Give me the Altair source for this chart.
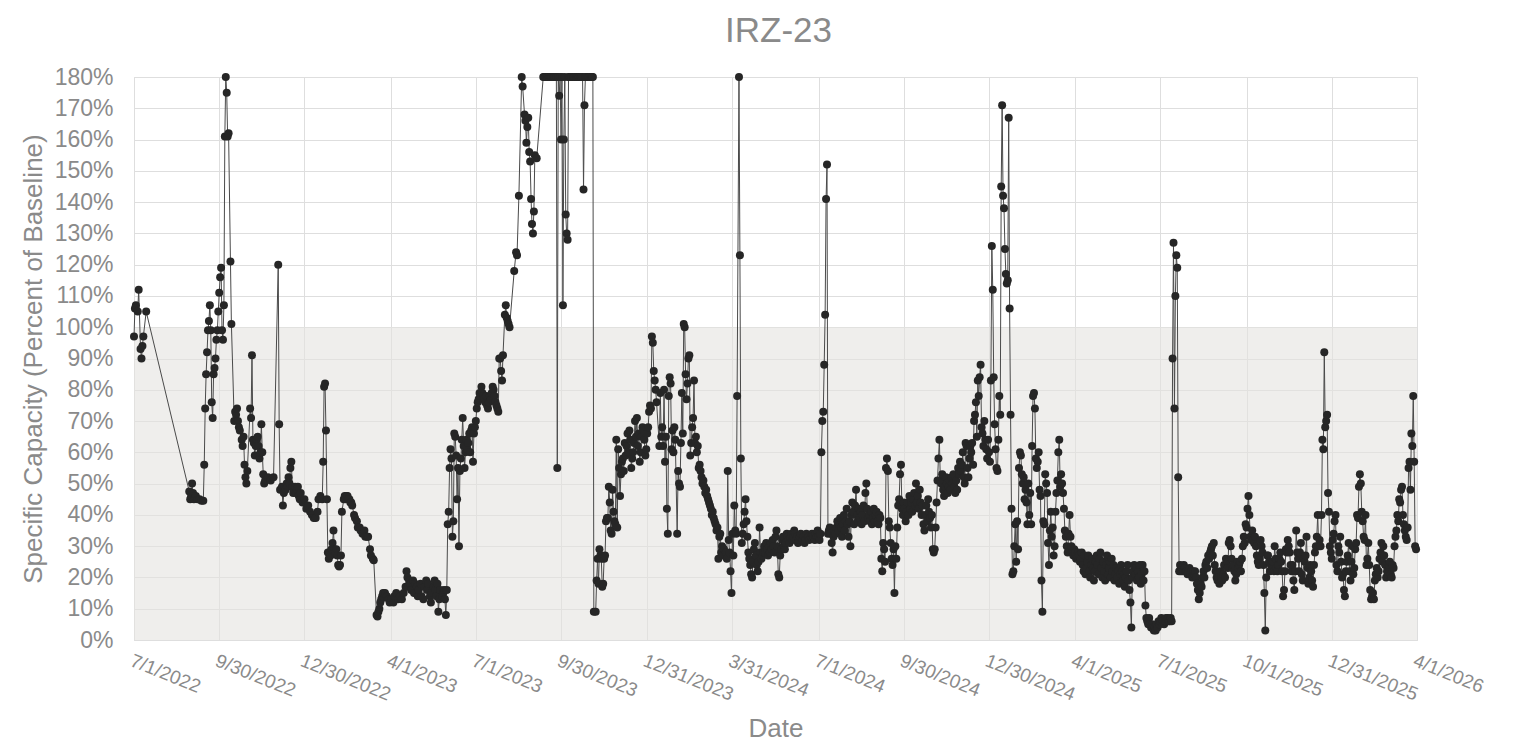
import altair as alt
import pandas as pd

# ---------------- data ----------------
START_DATE = "2022-07-01"   # day 0 of the day offsets below
END_DATE = "2026-04-01"
baseline_pct = 100          # top of the shaded "below baseline" band

# day offsets (days since START_DATE) and specific capacity (% of baseline)
days_2022 = ([0, 1, 2, 4, 5, 7, 8, 9, 10, 13,
              59, 60, 61, 62, 63, 64, 66, 68, 70, 72, 74, 75]
             + list(range(76, 102)) + [103, 104]
             + [107, 108, 109, 110, 111, 112, 113] + list(range(115, 122))
             + list(range(124, 141)) + [143, 146, 149, 154, 155, 156, 158, 159, 160]
             + list(range(161, 179)) + [180, 182])
pct_2022 = [97, 106, 107, 105, 112, 93, 90, 94, 97, 105,
            47.5, 45, 46, 50, 47, 45, 46, 45, 45, 44.5, 44.5, 56,
            74, 85, 92, 99, 102, 107, 99, 76, 71, 85, 87, 90, 96, 99, 105, 111, 116, 119, 99, 96,
            107, 161, 180, 175, 161, 162, 121, 101,
            70, 73, 72, 74, 70, 68, 67, 64, 62, 65, 56, 52, 50, 54,
            74, 71, 91, 64, 63, 59, 62, 64, 65, 62, 58, 60, 69, 60, 53, 50, 51,
            52, 51, 52, 120, 69, 48, 49, 43, 47,
            49, 48, 50, 49, 52, 50, 55, 57, 49, 47, 48, 49, 47, 48, 49, 46, 45, 47, 44, 45]

days_2023 = ([184, 186, 188, 190, 192, 194, 196, 197, 199, 201, 202, 203, 204, 205, 206, 207, 208]
             + list(range(209, 223)) + list(range(224, 234))
             + [235, 236, 238, 239, 241, 242, 244, 246, 247, 249, 250, 252, 253, 255, 256, 259, 260]
             + [261, 262, 263, 264, 265, 266, 268, 270, 272, 273, 275, 277, 278, 280, 282, 284, 286, 288,
                290, 291, 292, 293, 294, 295, 296, 298, 299, 300, 302, 303, 304, 306, 307, 309, 310,
                312, 313, 314, 316, 317, 318, 320, 321, 322, 323, 324, 325, 326, 327, 329, 330, 331, 332, 333]
             + list(range(334, 395)) + list(range(396, 402)) + [406, 408, 409, 411, 414, 415]
             + list(range(417, 429)) + [430]
             + list(range(437, 492)) + [493] + list(range(494, 549)))
pct_2023 = [42, 43, 41, 40, 39, 39, 41, 45, 46, 45, 57, 81, 82, 67, 45, 28, 26,
            28, 27, 29, 31, 35, 29, 28, 29, 27, 24, 23.5, 24, 27, 41,
            45, 46, 45, 46, 46, 45, 45, 44, 44, 43,
            40, 39, 38, 36, 36, 35, 34, 35, 33, 33, 33, 29, 27, 26, 25.5, 8, 7.5,
            9, 10, 12, 13, 14, 15, 15, 14, 13, 12, 13, 12, 14, 15, 13, 14, 13, 15,
            17, 22, 20, 17, 19, 18, 16, 19, 15, 18, 17, 14, 16, 18, 14, 13, 17,
            19, 16, 18, 14, 12, 15, 17, 19, 16, 14, 18, 9, 13, 16, 14, 15, 16, 13, 8,
            16, 37, 41, 55, 61, 58, 33, 38, 66, 65, 59, 45, 55, 30, 54, 58, 64, 71, 62, 55,
            60, 64, 61, 63, 66, 60, 67, 68, 57, 66, 68, 70,
            74, 76, 77, 79, 78, 81, 79, 78, 77, 76, 78, 75, 74, 76, 78, 77, 79, 81, 80, 78,
            76, 75, 74, 73, 90, 90, 86, 83, 91,
            104, 107, 103, 102, 101, 100, 118, 124, 123, 142, 180, 177,
            168, 166, 159, 164, 167, 156, 153, 141, 133, 130, 137, 155, 154,
            180, 180, 180, 180, 180, 180, 180, 180, 180, 180, 180, 180, 180, 180, 180,
            55, 180, 174, 180, 160, 180, 107, 160, 180, 136, 130, 128,
            180, 180, 180, 180, 180, 180, 180, 180, 180, 180, 180, 180, 180, 180, 180, 180,
            144, 171, 180, 180, 180, 180, 180, 180, 180, 180, 180, 9, 9,
            19, 26, 18, 29, 27, 26, 17, 18, 26, 27, 38, 39, 39, 49, 44, 35, 34, 48, 41, 38,
            37, 64, 36, 61, 55, 46, 53, 57, 58, 54, 63, 59, 62, 66, 60, 67, 64, 55, 58, 60,
            63, 70, 65, 71, 62, 66, 57, 60, 65, 68, 67, 64, 59, 61, 66]

days_2024 = (list(range(549, 559)) + list(range(561, 579)) + list(range(580, 631))
             + list(range(632, 645)) + list(range(646, 713)) + list(range(714, 719))
             + [720, 721, 723, 724, 725] + list(range(727, 915)))
pct_2024 = [68, 73, 75, 74, 97, 95, 86, 83, 80, 76,
            62, 79, 65, 68, 62, 80, 57, 65, 42, 34, 78, 84, 82, 61, 67, 60, 68, 64,
            34, 54, 50, 49, 63, 79, 66, 101, 100, 85, 77, 82, 90, 91, 59, 63, 68, 71, 83, 63,
            65, 60, 62, 55, 56, 54, 52, 50, 51, 49, 47, 48, 46, 45, 44, 43, 42, 40, 41, 39,
            38, 37, 35, 36, 26, 33, 34, 28, 30, 27, 29,
            28, 26, 54, 32, 28, 22, 15, 34, 27, 43, 35, 34, 78,
            180, 123, 58, 31, 34, 37, 41, 45, 38, 33, 28, 26, 24, 21, 20, 25, 29, 31, 27, 24,
            22, 25, 36, 28, 26, 27, 28,
            30, 28, 31, 29, 27, 30, 28, 31, 29, 32, 30, 28, 33, 35, 30, 21, 20, 27, 29, 32,
            33, 30, 29, 31, 34, 33, 32, 31, 33, 34, 32, 33, 35, 34, 32, 33, 31, 32, 33, 34,
            32, 33, 31, 32, 34, 33, 32, 33, 34, 33,
            32, 34, 33, 35, 33, 32, 34, 60, 70, 73, 88, 104, 141, 152, 34, 35, 36,
            34, 31, 28, 33, 35, 34, 36, 38, 35, 37, 39, 36, 33, 37, 40, 35, 38, 42, 37, 33,
            38, 30, 40, 44, 41, 37, 43, 48, 40, 38, 42, 39, 41, 37, 40, 43, 38, 47, 50, 42,
            39, 40, 38, 41, 37, 39, 42, 38, 40, 41, 38, 37, 40, 39, 26, 22, 31, 29, 25, 55,
            58, 54, 38, 36, 31, 26, 24, 29, 15, 30, 26, 36, 43, 45, 53, 56, 42, 40, 44, 42,
            38, 41, 44, 40, 46, 42, 44, 41, 45, 47, 43, 50, 44, 46, 42, 48, 44, 40, 43, 37,
            35, 40, 43, 38, 45, 41, 39, 36, 40, 29, 28, 29, 36, 44, 51, 58, 64, 51, 50, 53,
            48, 46, 49, 52, 50, 47, 49, 51, 48, 52, 50, 53, 49, 47, 51, 48, 55, 53, 57, 54,
            56, 60, 52, 50, 63, 62, 55, 52, 58, 62, 60, 63, 56, 70, 72, 76, 65, 83, 78, 84,
            88, 68, 66, 62, 70, 64, 61, 58, 64, 60, 57]

days_2025 = list(range(915, 1280))
pct_2025 = [83, 126, 112, 84, 69, 61,
            55, 54, 64, 78, 72, 145, 171, 142, 138, 125, 117, 114, 115, 167, 106, 72, 42, 21, 22, 30,
            37, 25, 38, 29, 55, 60, 59, 53, 50, 52, 45, 48, 44, 37, 50, 40, 47, 37, 62, 78,
            79, 74, 58, 55, 57, 60, 48, 46, 19, 9, 38, 37, 53, 50, 47, 31, 24, 35, 41, 33,
            36, 27, 30, 41, 47, 51, 60, 64, 49, 53, 50, 47, 42, 35, 33, 30, 28, 34, 40, 33,
            30, 28, 27, 29, 28, 26, 27,
            28, 27, 25, 26, 28, 24, 22, 27, 21, 23, 25, 27, 22, 20, 24, 26, 23, 19, 22, 25,
            27, 24, 21, 26, 28, 23, 20, 25, 22, 19, 24, 27, 21, 23, 25, 20, 26, 22, 24, 19,
            21, 23, 20, 22, 18, 21, 24, 22, 19, 21, 17, 20, 22, 24, 19, 16, 12, 4, 20, 22,
            24, 21, 23, 19, 22, 20, 24, 18, 21, 24, 19, 22, 11, 7, 6, 5, 7, 5, 4, 5,
            4, 3, 4, 3, 5, 4, 6, 5, 6, 7, 6, 6, 5, 6, 7,
            6, 7, 6, 6, 7, 6, 90, 127, 74, 110, 123, 119, 52,
            22, 24, 22, 23, 22, 24, 23, 22, 22, 21, 22, 23, 21, 22, 20, 22, 21, 22, 20, 18,
            16, 13, 15, 18, 17, 20, 22, 20, 24, 25, 23, 27, 26, 28, 29, 30, 27, 31, 24, 22,
            20, 19, 20, 18, 22, 20, 19, 21, 24, 20, 26, 25, 23, 31, 32, 30, 26, 23, 24, 22,
            19, 21, 25, 23, 24, 25, 22, 26, 30, 33, 31, 37, 36, 42, 46, 40, 33, 32, 35, 32,
            31, 33, 30, 27, 25, 24, 26, 32, 30, 28, 24, 15, 3, 20, 27,
            27, 25, 22, 24, 23, 25, 22, 30, 26, 23, 22, 24, 26, 28, 25, 22, 14, 16, 22, 29,
            28, 32, 30, 28, 24, 22, 24, 19, 16, 22, 35, 28, 26, 22, 28, 31, 21, 19, 26, 25,
            27, 33, 23, 18, 20, 24, 22, 19, 17, 24, 28, 30, 33, 40, 30,
            32, 30, 40, 64, 61, 92, 68, 70, 72, 47, 41, 30, 28, 26]

days_2026 = list(range(1280, 1370))
pct_2026 = [32, 34, 38, 40, 24, 22, 30, 28, 33, 25, 20, 21, 16, 14, 22, 25, 27, 31, 22, 19,
            25, 30, 21, 23, 29, 31, 40, 39, 49, 53, 50, 41, 38, 33, 32, 40, 24, 26, 31, 24,
            16, 13, 14, 15, 13, 19, 21, 23, 20, 22, 26, 28, 31, 25, 30, 27, 24, 20, 22, 21,
            24, 25, 21, 20, 24, 23, 30, 33, 35, 40, 38, 45, 44, 48, 49, 40, 37, 35, 33, 32,
            36, 55, 57, 48, 66, 62, 78, 57, 30, 29]

x_tick_dates = ["2022-07-01", "2022-09-30", "2022-12-30", "2023-04-01", "2023-07-01",
                "2023-09-30", "2023-12-31", "2024-03-31", "2024-07-01", "2024-09-30",
                "2024-12-30", "2025-04-01", "2025-07-01", "2025-10-01", "2025-12-31",
                "2026-04-01"]
y_ticks = [0, 10, 20, 30, 40, 50, 60, 70, 80, 90, 100, 110, 120, 130, 140, 150, 160, 170, 180]

# ---------------- assemble ----------------
days, pct = [], []
for d, p, name in [(days_2022, pct_2022, "2022"), (days_2023, pct_2023, "2023"),
                   (days_2024, pct_2024, "2024"), (days_2025, pct_2025, "2025"),
                   (days_2026, pct_2026, "2026")]:
    if len(d) != len(p):
        raise ValueError(f"{name}: {len(d)} days vs {len(p)} values")
    days += d
    pct += p

start = pd.Timestamp(START_DATE)
dates = (start + pd.to_timedelta(days, unit="D")).strftime("%Y-%m-%d")
df = pd.DataFrame({"date": list(dates), "pct": pct})


def ts(s):
    return int(pd.Timestamp(s, tz="UTC").timestamp() * 1000)


band_df = pd.DataFrame({"start": [START_DATE], "end": [END_DATE],
                        "low": [0], "high": [baseline_pct]})

FONT = "Liberation Sans"
GREY = "#8a8a8a"

x_scale = alt.Scale(type="utc", domain=[ts(START_DATE), ts(END_DATE)])
y_scale = alt.Scale(domain=[0, 180], nice=False)

x_axis = alt.Axis(
    title="Date", values=[ts(s) for s in x_tick_dates],
    labelExpr="utcFormat(datum.value, '%-m/%-d/%Y')",
    labelAngle=22, labelAlign="left", labelBaseline="top",
    labelFontSize=19, labelPadding=11, labelFlush=False, labelOverlap=False,
    titleFontSize=26, titlePadding=11, grid=True, tickSize=0,
)
y_axis = alt.Axis(
    title="Specific Capacity (Percent of Baseline)", values=y_ticks,
    labelExpr="datum.value + '%'", labelFontSize=23, labelPadding=21,
    titleFontSize=26, titlePadding=8, grid=True, tickSize=0,
)

band = alt.Chart(band_df).mark_rect(color="#e4e2df", opacity=0.6).encode(
    x=alt.X("start:T", scale=x_scale, axis=x_axis),
    x2="end:T",
    y=alt.Y("low:Q", scale=y_scale, axis=y_axis),
    y2="high:Q",
)

line = alt.Chart(df).mark_line(color="#4a4a4a", strokeWidth=1).encode(
    x=alt.X("date:T", scale=x_scale, axis=x_axis),
    y=alt.Y("pct:Q", scale=y_scale, axis=y_axis),
)

points = alt.Chart(df).mark_circle(size=64, color="#262626", opacity=1).encode(
    x=alt.X("date:T", scale=x_scale, axis=x_axis),
    y=alt.Y("pct:Q", scale=y_scale, axis=y_axis),
)

chart = (
    alt.layer(band, line, points)
    .properties(
        width=1283, height=563,
        title=alt.TitleParams(text="IRZ-23", fontSize=35, font=FONT, fontWeight="normal",
                              color=GREY, anchor="middle", frame="group",
                              offset=17, dx=3),
        padding={"left": 126, "top": 69, "right": 100, "bottom": 110},
        autosize=alt.AutoSizeParams(type="none"),
    )
    .configure_view(stroke="#d9d9d9", strokeWidth=1)
    .configure_axis(domain=False, ticks=False, gridColor="#dedede", gridWidth=1,
                    labelColor=GREY, titleColor=GREY, labelFont=FONT, titleFont=FONT,
                    titleFontWeight="normal")
)

chart.save("out.html", embed_options={"renderer": "svg", "actions": False})
